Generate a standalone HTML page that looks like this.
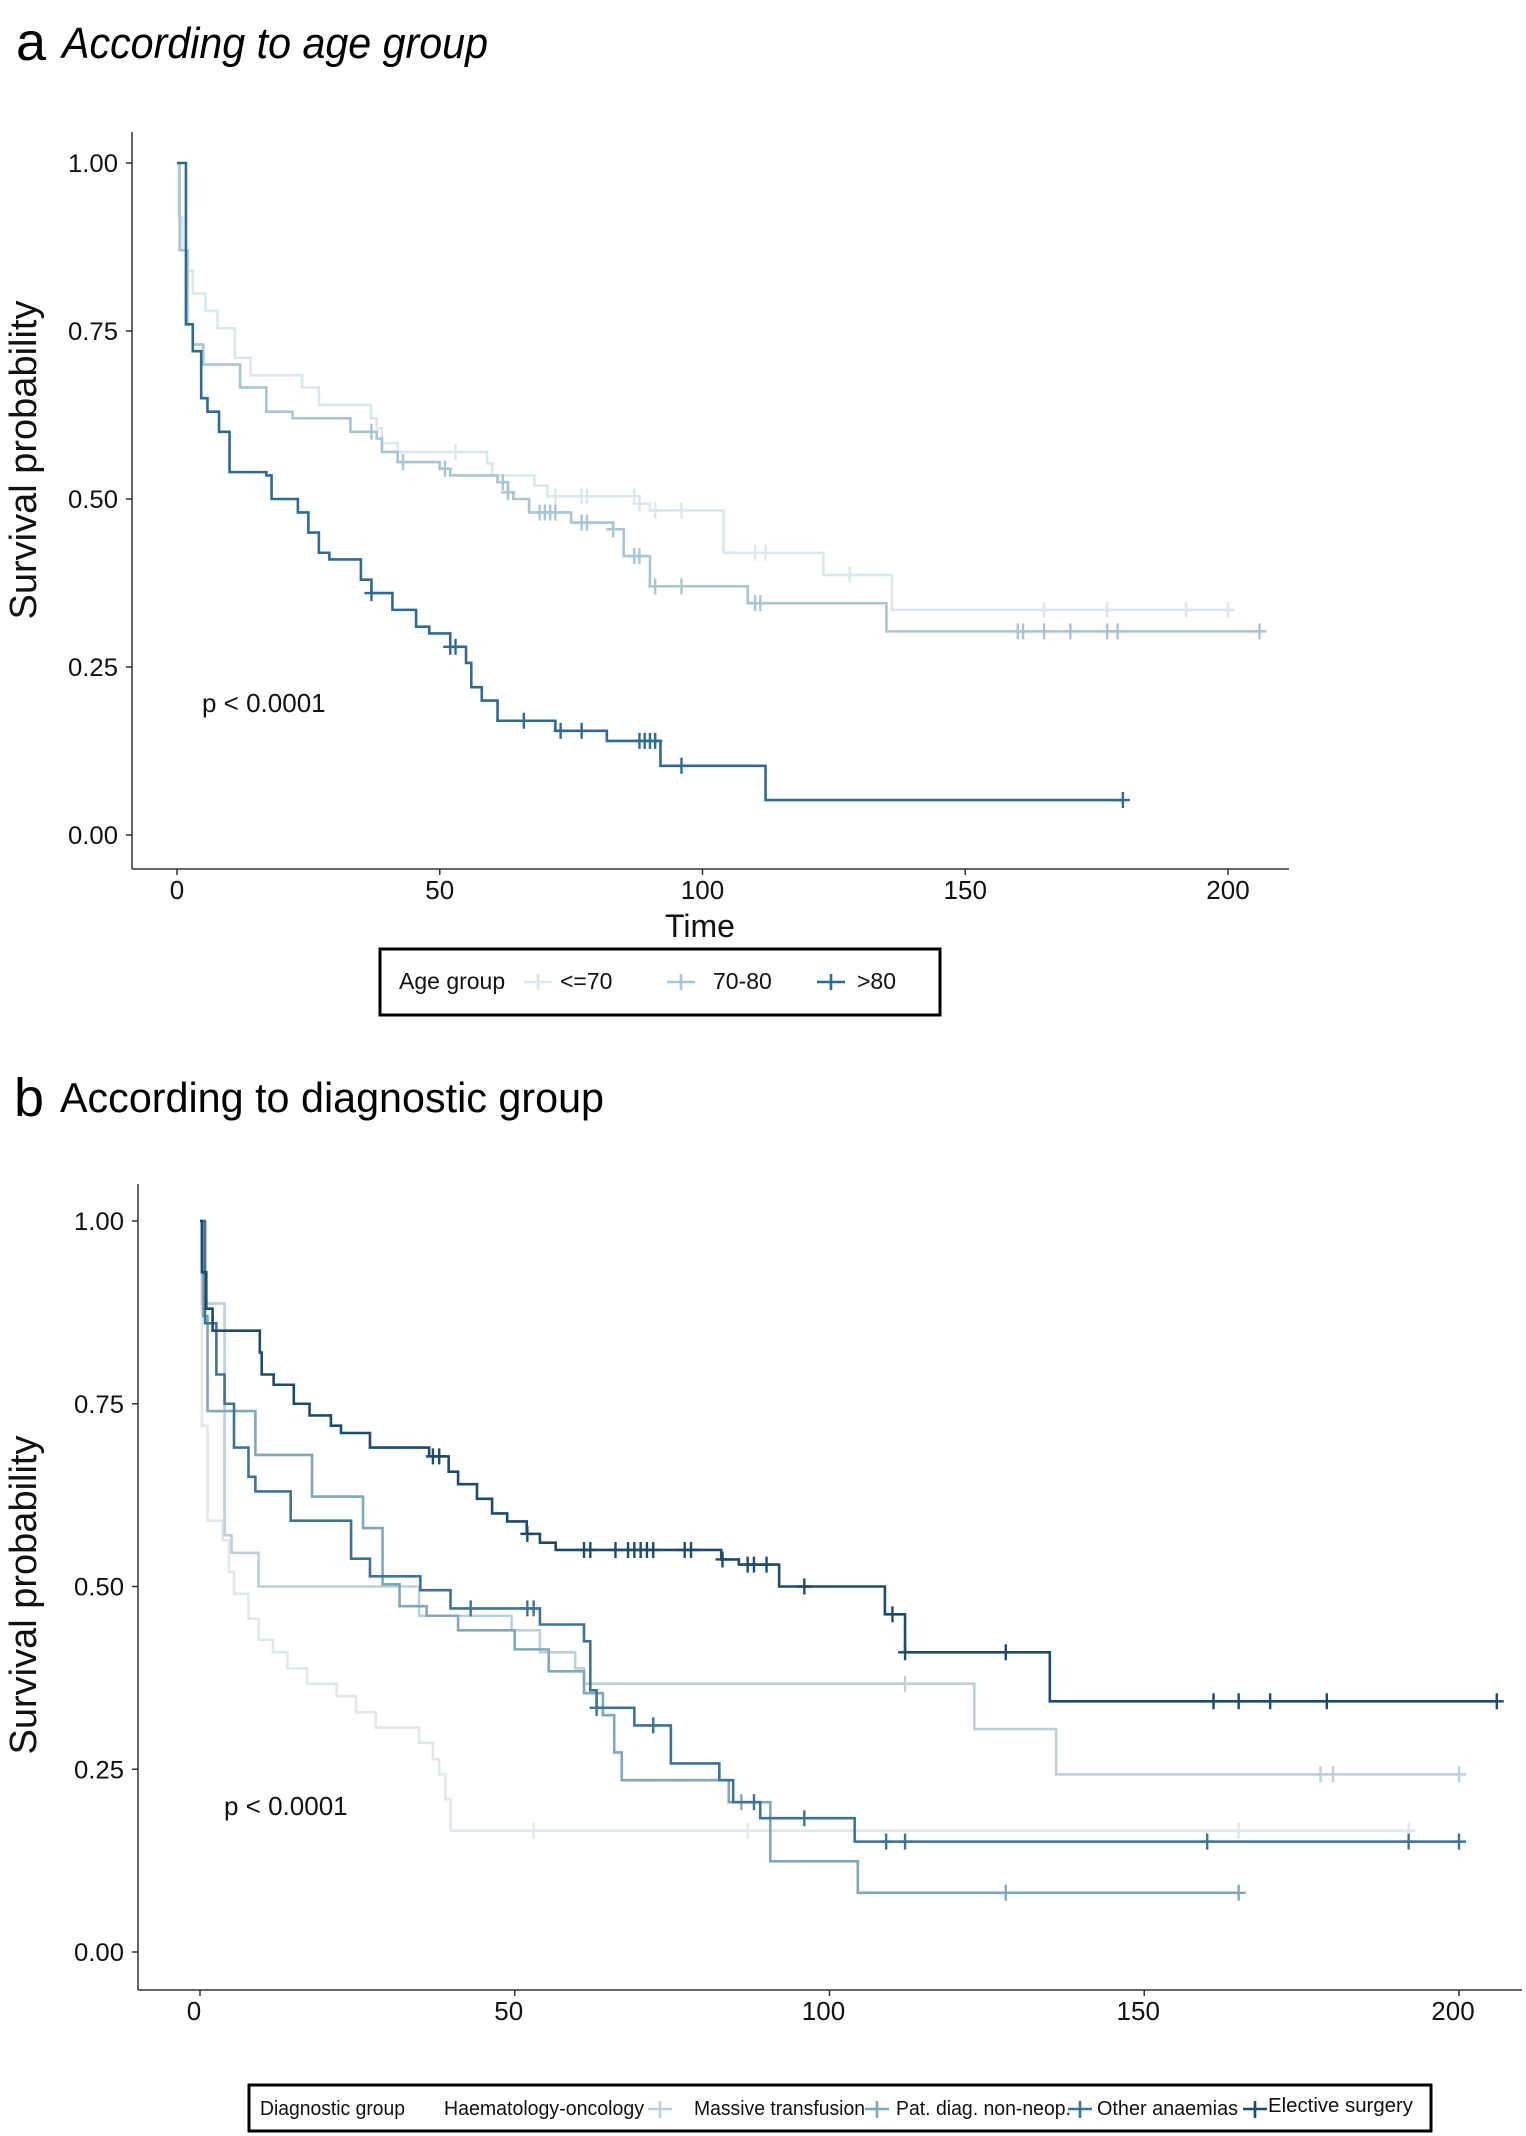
<!DOCTYPE html>
<html><head><meta charset="utf-8">
<style>
html,body{margin:0;padding:0;background:#fff;}
body{width:1526px;height:2136px;position:relative;overflow:hidden;font-family:"Liberation Sans Narrow","Liberation Sans",sans-serif;}
svg{position:absolute;left:0;top:0;}
</style></head>
<body>
<svg id="fig" width="1526" height="2136" viewBox="0 0 1526 2136" xmlns="http://www.w3.org/2000/svg">
<text x="16" y="60" font-family="Liberation Sans, sans-serif" font-size="54" fill="#000">a</text>
<text x="62" y="58" font-size="44" font-style="italic" fill="#000" textLength="426" lengthAdjust="spacingAndGlyphs">According to age group</text>
<text x="14" y="1116" font-family="Liberation Sans, sans-serif" font-size="54" fill="#000">b</text>
<text x="60" y="1112" font-size="42" fill="#000" textLength="544" lengthAdjust="spacingAndGlyphs">According to diagnostic group</text>
<g id="chartA"></g>
<g id="chartB"></g>
</svg>
<script>
// ---- Chart A data (age group) ----
const ageGroups = ["<=70", "70-80", ">80"];
const ageColors = ["#dbe7ef", "#a9c5d5", "#2e6a94"];
const a70Times = [0, 0.3, 1, 2, 3, 5.4, 7.7, 11, 14, 23.8, 27, 36.9, 38, 39, 42, 59, 60, 68, 70.5, 88, 90, 104, 123, 136];
const a70Surv  = [1, 0.92, 0.87, 0.84, 0.806, 0.78, 0.754, 0.71, 0.684, 0.666, 0.64, 0.62, 0.605, 0.583, 0.57, 0.553, 0.535, 0.52, 0.504, 0.493, 0.483, 0.42, 0.387, 0.335];
const a70Censor = [53, 72, 77, 78, 87, 88, 91, 96, 110, 112, 128, 165, 177, 192, 200];
const a70End = 200;
const a7080Times = [0, 0.5, 2, 3, 5, 12, 17, 22, 33, 38, 39, 42, 50, 52, 61, 63, 64, 67, 75, 83, 85, 90, 108.6, 135];
const a7080Surv  = [1, 0.87, 0.76, 0.73, 0.70, 0.666, 0.63, 0.62, 0.60, 0.59, 0.57, 0.555, 0.545, 0.535, 0.525, 0.51, 0.50, 0.48, 0.465, 0.455, 0.415, 0.37, 0.345, 0.303];
const a7080Censor = [37, 43, 51, 62, 63, 69, 70, 71, 72, 77, 78, 83, 87, 88, 91, 96, 110, 111, 160, 161, 165, 170, 177, 179, 206];
const a7080End = 206;
const a80Times = [0, 1.7, 3, 4.6, 5.8, 8, 10, 17, 18, 23, 25, 27, 29, 35, 37, 41, 45.5, 48, 52, 55, 56, 58, 61, 72, 81.8, 92, 112];
const a80Surv  = [1, 0.76, 0.72, 0.65, 0.63, 0.60, 0.54, 0.535, 0.50, 0.48, 0.45, 0.42, 0.41, 0.38, 0.36, 0.335, 0.31, 0.30, 0.28, 0.256, 0.22, 0.20, 0.17, 0.155, 0.14, 0.103, 0.052];
const a80Censor = [37, 52, 53, 66, 73, 77, 88, 89, 90, 91, 96, 180];
const a80End = 180;
const xTicksA = [0, 50, 100, 150, 200];
const yTicks = [0, 0.25, 0.5, 0.75, 1];
const yTickLabels = ["0.00", "0.25", "0.50", "0.75", "1.00"];

// ---- Chart B data (diagnostic group) ----
const diagGroups = ["Haematology-oncology", "Massive transfusion", "Pat. diag. non-neop.", "Other anaemias", "Elective surgery"];
const diagColors = ["#e0e8ee", "#bccfdb", "#82a7bb", "#3e7395", "#1d4b6e"];
const hoTimes = [0, 0.3, 1.2, 3.6, 4.6, 5.4, 7.7, 9.3, 11.6, 13.9, 17, 21.7, 24.8, 27.9, 34.8, 37, 38, 39, 39.8];
const hoSurv  = [1, 0.72, 0.59, 0.563, 0.52, 0.49, 0.456, 0.427, 0.41, 0.388, 0.367, 0.35, 0.328, 0.307, 0.286, 0.264, 0.243, 0.209, 0.166];
const hoCensor = [53, 87, 165, 192];
const hoEnd = 193;
const mtTimes = [0, 0.3, 3.9, 5, 9.3, 34.8, 49.5, 54, 59.6, 61, 123, 136];
const mtSurv  = [1, 0.887, 0.57, 0.546, 0.50, 0.46, 0.44, 0.41, 0.388, 0.367, 0.305, 0.243];
const mtCensor = [112, 178, 180, 200];
const mtEnd = 200;
const pdTimes = [0, 0.5, 1.2, 8.8, 17.8, 25.9, 29, 31.7, 36, 41, 50, 55.4, 61, 64, 65.8, 67, 84, 90.6, 104.5];
const pdSurv  = [1, 0.87, 0.74, 0.68, 0.623, 0.58, 0.503, 0.473, 0.46, 0.44, 0.414, 0.384, 0.354, 0.324, 0.273, 0.235, 0.205, 0.124, 0.081];
const pdCensor = [86, 128, 165];
const pdEnd = 165;
const oaTimes = [0, 0.8, 2.6, 3.9, 5.4, 7.7, 8.8, 14.4, 24, 27, 35, 39.8, 54, 61, 62, 63, 69, 74.8, 82.5, 84.7, 89, 104];
const oaSurv  = [1, 0.86, 0.79, 0.75, 0.69, 0.65, 0.63, 0.59, 0.538, 0.514, 0.495, 0.47, 0.448, 0.425, 0.358, 0.334, 0.31, 0.258, 0.235, 0.205, 0.183, 0.151];
const oaCensor = [43, 52, 53, 63, 72, 88, 96, 109, 112, 160, 192, 200];
const oaEnd = 200;
const esTimes = [0, 0.3, 1, 2, 9.5, 9.8, 11.7, 14.9, 17.4, 20.8, 22.4, 27, 36.4, 39.5, 41, 44, 46.4, 48.8, 51.9, 54, 56.5, 82.8, 85.6, 92, 108.8, 112, 135];
const esSurv  = [1, 0.93, 0.88, 0.85, 0.82, 0.79, 0.776, 0.75, 0.734, 0.72, 0.71, 0.69, 0.678, 0.657, 0.64, 0.62, 0.60, 0.589, 0.572, 0.56, 0.55, 0.537, 0.53, 0.50, 0.462, 0.41, 0.343];
const esCensor = [37, 38, 52, 61, 62, 66, 68, 69, 70, 71, 72, 77, 78, 83, 87, 88, 90, 96, 110, 112, 128, 161, 165, 170, 179, 206];
const esEnd = 206;
const xTicksB = [0, 50, 100, 150, 200];

const NS = "http://www.w3.org/2000/svg";
function mk(parent, tag, attrs, text){
  const e = document.createElementNS(NS, tag);
  for (const k in attrs) e.setAttribute(k, attrs[k]);
  if (text !== undefined) e.textContent = text;
  parent.appendChild(e);
  return e;
}
function survAt(times, surv, t){
  let s = surv[0];
  for (let i = 0; i < times.length; i++){ if (times[i] <= t) s = surv[i]; }
  return s;
}
function drawChart(g, cfg){
  const xs = t => cfg.x0 + (t / 200) * (cfg.x200 - cfg.x0);
  const ys = v => cfg.y0 - v * (cfg.y0 - cfg.y1);
  const ax = mk(g, "line", {x1: cfg.axL, y1: cfg.axTop, x2: cfg.axL, y2: cfg.axBot, stroke: "#333", "stroke-width": 1.5});
  
  
  const bx = mk(g, "line", {x1: cfg.axL, y1: cfg.axBot, x2: cfg.axR, y2: cfg.axBot, stroke: "#333", "stroke-width": 1.5});
  
  
  yTicks.forEach((v, i) => {
    const tk = mk(g, "line", {x1: cfg.axL - 6, y1: ys(v), x2: cfg.axL, y2: ys(v), stroke: "#333", "stroke-width": 1.5});
    
    
    const tl = mk(g, "text", {x: cfg.axL - 14, y: ys(v) + 9, "text-anchor": "end", "font-size": 25, fill: "#111", textLength: 50, lengthAdjust: "spacingAndGlyphs"}, yTickLabels[i]);
    
    
  });
  cfg.xTicks.forEach(t => {
    const tk = mk(g, "line", {x1: xs(t), y1: cfg.axBot, x2: xs(t), y2: cfg.axBot + 6, stroke: "#333", "stroke-width": 1.5});
    
    
    const tl = mk(g, "text", {x: xs(t) + cfg.xLabDx, y: cfg.xLabY, "text-anchor": "middle", "font-size": 26, fill: "#111"}, String(t));
    
    
  });
  const yt = mk(g, "text", {x: 0, y: 0, transform: "translate(" + cfg.ytX + "," + cfg.ytY + ") rotate(-90)", "text-anchor": "middle", "font-family": "Liberation Sans, sans-serif", "font-size": 38, fill: "#111"}, "Survival probability");
  
  
  const pv = mk(g, "text", {x: cfg.pX, y: cfg.pY, "font-size": 26, fill: "#111"}, "p < 0.0001");
  
  
  cfg.series.forEach((s, si) => {
    let d = "M" + xs(s.times[0]) + "," + ys(s.surv[0]);
    for (let i = 1; i < s.times.length; i++){
      d += " H" + xs(s.times[i]) + " V" + ys(s.surv[i]);
    }
    d += " H" + xs(s.end);
    const p = mk(g, "path", {d: d, fill: "none", stroke: s.color, "stroke-width": 2.6});
    
    
    s.censor.forEach(t => {
      const cx = xs(t), cy = ys(survAt(s.times, s.surv, t));
      const c = mk(g, "path", {d: "M" + (cx - 7) + "," + cy + " H" + (cx + 7) + " M" + cx + "," + (cy - 8) + " V" + (cy + 8), stroke: s.color, "stroke-width": 2.4, fill: "none"});
      
      
    });
  });
}

const gA = document.getElementById("chartA");
drawChart(gA, {
  x0: 177, x200: 1228, y0: 835, y1: 163, axL: 132, axR: 1289, axTop: 132, axBot: 869,
  xLabY: 899, xLabDx: 0, xTicks: xTicksA, ytX: 36, ytY: 460, pX: 202, pY: 712,
  series: [
    {key: "le70", times: a70Times, surv: a70Surv, censor: a70Censor, end: a70End, color: ageColors[0]},
    {key: "70-80", times: a7080Times, surv: a7080Surv, censor: a7080Censor, end: a7080End, color: ageColors[1]},
    {key: "gt80", times: a80Times, surv: a80Surv, censor: a80Censor, end: a80End, color: ageColors[2]}
  ]
});
const tA = mk(gA, "text", {x: 700, y: 937, "text-anchor": "middle", "font-family": "Liberation Sans, sans-serif", "font-size": 32, fill: "#111"}, "Time");


const legA = mk(gA, "g", {});


const lbA = mk(legA, "rect", {x: 380, y: 949, width: 560, height: 66, fill: "#fff", stroke: "#000", "stroke-width": 3});


const ltA = mk(legA, "text", {x: 399, y: 989, "font-size": 23, fill: "#111"}, "Age group");


const legAx = [538, 681, 831];
const legAtx = [560, 713, 857];
ageGroups.forEach((name, i) => {
  const gl = mk(legA, "path", {d: "M" + (legAx[i] - 14) + ",982 H" + (legAx[i] + 14) + " M" + legAx[i] + ",974 V990", stroke: ageColors[i], "stroke-width": 2.6, fill: "none"});
  
  
  const lt = mk(legA, "text", {x: legAtx[i], y: 989, "font-size": 23, fill: "#111"}, name);
  
  
});

const gB = document.getElementById("chartB");
drawChart(gB, {
  x0: 200, x200: 1459, y0: 1952, y1: 1221, axL: 138, axR: 1522, axTop: 1184, axBot: 1990,
  xLabY: 2020, xLabDx: -6, xTicks: xTicksB, ytX: 36, ytY: 1595, pX: 224, pY: 1815,
  series: [
    {key: "haem-onc", times: hoTimes, surv: hoSurv, censor: hoCensor, end: hoEnd, color: diagColors[0]},
    {key: "massive-transfusion", times: mtTimes, surv: mtSurv, censor: mtCensor, end: mtEnd, color: diagColors[1]},
    {key: "pat-diag", times: pdTimes, surv: pdSurv, censor: pdCensor, end: pdEnd, color: diagColors[2]},
    {key: "other-anaemias", times: oaTimes, surv: oaSurv, censor: oaCensor, end: oaEnd, color: diagColors[3]},
    {key: "elective-surgery", times: esTimes, surv: esSurv, censor: esCensor, end: esEnd, color: diagColors[4]}
  ]
});
const legB = mk(gB, "g", {});


const lbB = mk(legB, "rect", {x: 249, y: 2085, width: 1182, height: 46, fill: "#fff", stroke: "#000", "stroke-width": 3});


const ltB = mk(legB, "text", {x: 260, y: 2115, "font-size": 20, fill: "#111", textLength: 145, lengthAdjust: "spacingAndGlyphs"}, "Diagnostic group");


const legBtx = [444, 694, 896, 1097, 1268];
const legBlen = [200, 171, 175, 141, 145];
diagGroups.forEach((name, i) => {
  const lt = mk(legB, "text", {x: legBtx[i], y: i === 4 ? 2112 : 2115, "font-size": 20, fill: "#111", textLength: legBlen[i], lengthAdjust: "spacingAndGlyphs"}, name);
  
  
});
[660, 877, 1080, 1255].forEach((kx, j) => {
  const i = j + 1;
  const gl = mk(legB, "path", {d: "M" + (kx - 12) + ",2109 H" + (kx + 12) + " M" + kx + ",2101 V2118", stroke: diagColors[i], "stroke-width": 2.6, fill: "none"});
  
  
});
</script>
</body></html>
